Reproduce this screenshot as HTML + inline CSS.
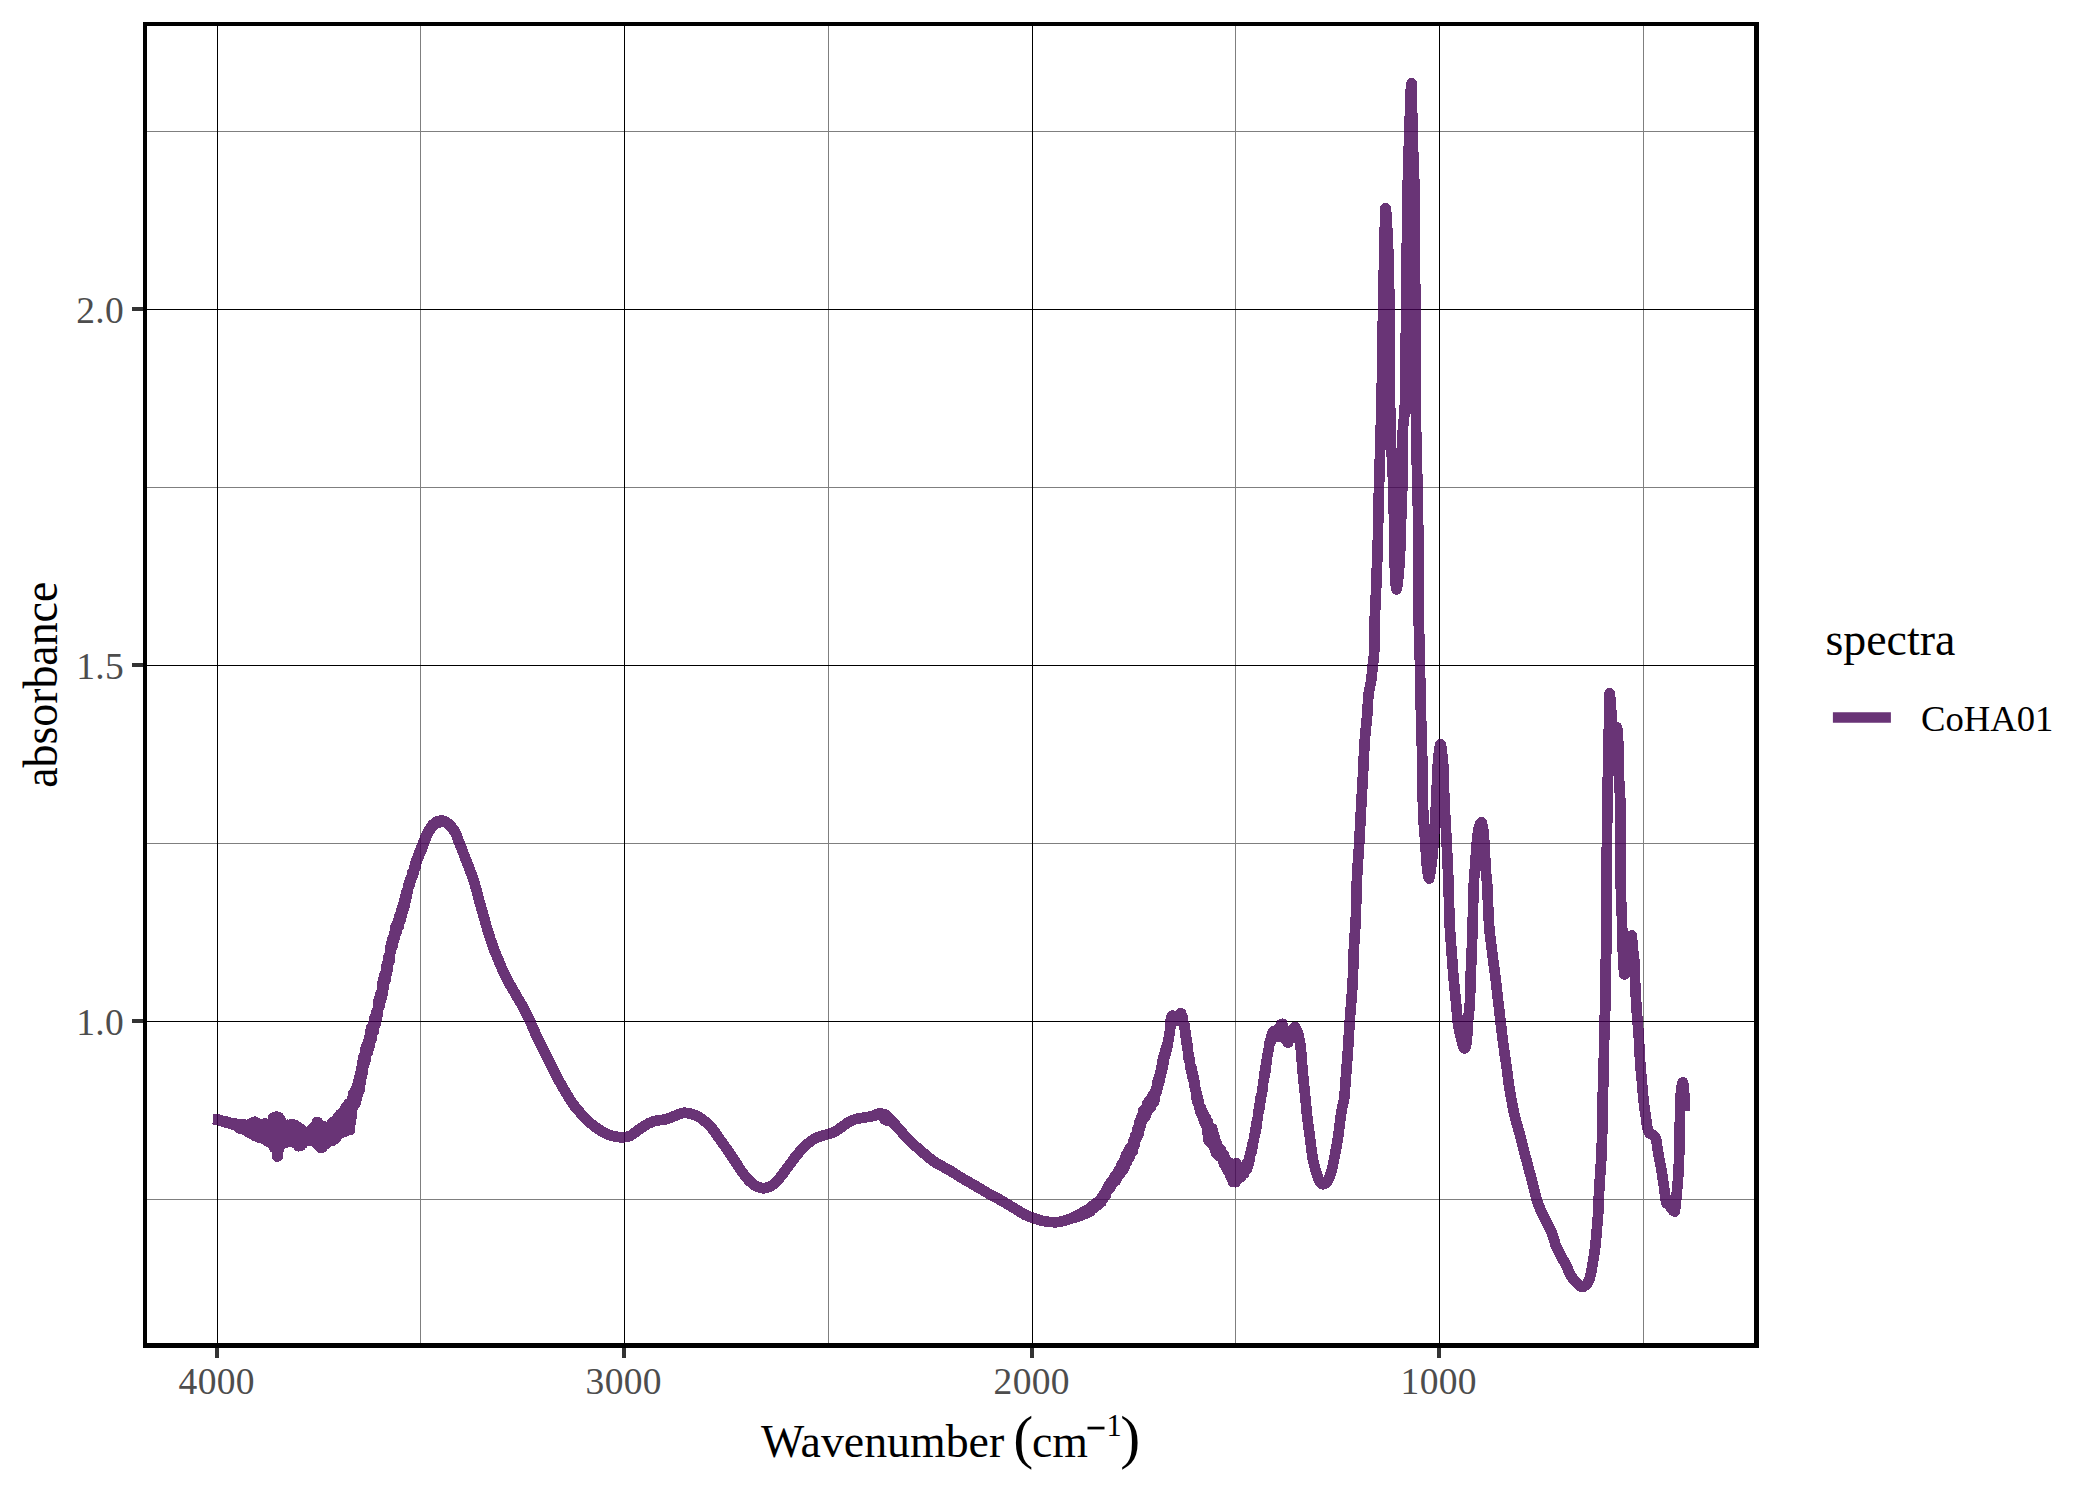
<!DOCTYPE html>
<html><head><meta charset="utf-8"><title>spectra</title>
<style>
html,body{margin:0;padding:0;background:#fff;}
body{width:2100px;height:1500px;overflow:hidden;}
svg{display:block;}
text{font-family:"Liberation Serif",serif;}
.atext{font-size:37.5px;fill:#4D4D4D;letter-spacing:0.3px;}
.ltext{font-size:36.67px;fill:#000;}
.atitle{font-size:45.83px;fill:#000;}
.atitle.paren{font-size:60px;}
.atitle.sup{font-size:30.5px;}
</style></head>
<body>
<svg width="2100" height="1500" viewBox="0 0 2100 1500">
<rect x="0" y="0" width="2100" height="1500" fill="#ffffff"/>
<g shape-rendering="crispEdges">
<rect x="420" y="26" width="1" height="1317" fill="#7F7F7F"/>
<rect x="828" y="26" width="1" height="1317" fill="#7F7F7F"/>
<rect x="1235" y="26" width="1" height="1317" fill="#7F7F7F"/>
<rect x="1643" y="26" width="1" height="1317" fill="#7F7F7F"/>
<rect x="147" y="131" width="1607" height="1" fill="#7F7F7F"/>
<rect x="147" y="487" width="1607" height="1" fill="#7F7F7F"/>
<rect x="147" y="843" width="1607" height="1" fill="#7F7F7F"/>
<rect x="147" y="1199" width="1607" height="1" fill="#7F7F7F"/>
<rect x="217" y="26" width="1" height="1317" fill="#000"/>
<rect x="624" y="26" width="1" height="1317" fill="#000"/>
<rect x="1032" y="26" width="1" height="1317" fill="#000"/>
<rect x="1439" y="26" width="1" height="1317" fill="#000"/>
<rect x="147" y="309" width="1607" height="1" fill="#000"/>
<rect x="147" y="665" width="1607" height="1" fill="#000"/>
<rect x="147" y="1021" width="1607" height="1" fill="#000"/>
</g>
<path d="M213.3,1119.2 214.1,1119.1 214.9,1119.4 215.7,1119.2 216.5,1119.6 217.2,1119.3 218.0,1119.9 218.0,1119.5 218.8,1120.1 219.6,1120.0 220.4,1120.6 221.2,1120.4 222.0,1121.1 222.8,1120.9 223.6,1121.6 224.4,1121.3 225.1,1122.1 225.9,1121.6 226.7,1122.6 227.5,1122.0 228.3,1123.1 229.1,1122.4 229.9,1123.4 230.0,1122.6 230.7,1123.8 231.5,1122.9 232.3,1124.3 233.0,1123.3 233.8,1124.7 234.6,1123.6 235.4,1125.3 236.2,1123.7 237.0,1126.4 237.8,1123.9 238.6,1127.5 239.4,1124.1 240.0,1128.8 240.2,1124.2 240.9,1128.9 241.7,1124.0 242.5,1129.2 243.3,1124.4 244.1,1129.4 244.9,1124.8 245.7,1130.0 246.5,1124.9 247.3,1131.1 248.1,1125.5 248.8,1132.7 249.6,1124.4 250.0,1132.1 250.4,1124.3 251.2,1132.4 252.0,1123.0 252.8,1134.6 253.6,1122.3 254.4,1135.8 255.0,1121.7 255.2,1134.6 256.0,1122.5 256.7,1135.1 257.5,1123.3 258.3,1137.3 259.1,1124.0 259.9,1137.8 260.7,1125.2 261.5,1138.1 262.3,1125.7 263.1,1138.5 263.9,1125.8 264.6,1138.8 265.0,1123.2 265.4,1139.2 266.2,1123.7 267.0,1141.1 267.8,1125.3 268.6,1142.2 269.4,1126.0 270.0,1139.4 270.2,1126.1 271.0,1139.5 271.8,1123.2 272.5,1141.5 273.3,1117.8 274.1,1147.8 274.9,1116.8 275.7,1148.9 276.5,1116.6 277.0,1156.5 277.3,1123.6 278.1,1155.8 278.9,1117.4 279.7,1146.9 280.4,1119.6 281.2,1143.4 282.0,1125.4 282.8,1141.3 283.0,1128.9 283.6,1140.5 284.4,1127.5 285.2,1142.7 286.0,1126.1 286.8,1142.4 287.6,1124.8 288.3,1140.1 289.0,1124.9 289.1,1140.7 289.9,1125.0 290.7,1140.6 291.5,1124.1 292.3,1141.4 293.1,1125.2 293.9,1142.6 294.7,1124.8 295.5,1142.9 296.2,1126.7 297.0,1142.9 297.8,1126.9 298.6,1146.3 299.4,1128.0 300.0,1146.1 300.2,1128.4 301.0,1145.3 301.8,1130.0 302.6,1143.8 303.4,1131.7 304.1,1142.2 304.9,1132.0 305.7,1141.1 306.0,1132.1 306.5,1141.1 307.3,1132.5 308.1,1140.7 308.9,1132.3 309.7,1140.3 310.5,1132.1 311.3,1139.0 312.0,1129.0 312.8,1139.1 313.6,1127.1 314.4,1141.6 315.2,1126.4 316.0,1143.4 316.8,1122.1 317.0,1144.1 317.6,1121.9 318.4,1144.9 319.2,1128.1 319.9,1147.3 320.7,1129.3 321.0,1147.9 321.5,1128.7 322.3,1147.4 323.1,1126.3 323.9,1145.2 324.7,1126.7 325.5,1144.4 326.3,1129.8 327.1,1143.2 327.8,1130.0 328.0,1142.4 328.6,1127.5 329.4,1140.5 330.2,1125.5 331.0,1139.2 331.8,1122.8 332.6,1140.7 333.4,1121.8 334.0,1139.6 334.2,1122.6 335.0,1139.3 335.7,1120.5 336.5,1137.8 337.3,1117.9 338.1,1134.5 338.9,1115.9 339.7,1132.0 340.0,1114.5 340.5,1133.5 341.3,1115.6 342.1,1130.0 342.9,1114.3 343.6,1128.6 344.4,1110.1 345.0,1131.7 345.2,1108.1 346.0,1131.4 346.8,1105.7 347.6,1127.6 348.4,1103.8 349.2,1126.6 350.0,1103.0 350.0,1129.9 350.8,1102.4 351.5,1117.8 352.3,1098.7 353.0,1107.2 353.1,1093.5 353.9,1105.4 354.7,1090.8 355.5,1103.1 356.0,1088.5 356.3,1100.2 357.1,1086.1 357.9,1093.9 358.7,1079.5 359.4,1090.7 359.5,1077.3 360.2,1084.6 361.0,1068.6 361.8,1076.7 362.0,1063.2 362.6,1072.1 363.4,1056.7 364.2,1065.0 365.0,1050.1 365.8,1058.9 366.6,1045.3 367.3,1052.9 368.0,1041.6 368.1,1052.2 368.9,1038.1 369.7,1045.8 370.5,1031.0 371.2,1040.4 371.3,1027.5 372.1,1035.9 372.9,1023.9 373.7,1031.0 374.5,1017.5 375.0,1024.8 375.2,1016.2 376.0,1023.4 376.8,1010.9 377.6,1014.5 378.4,1001.6 378.7,1007.6 379.2,998.3 380.0,1005.0 380.8,993.0 381.6,998.0 382.4,983.5 383.1,992.4 383.5,978.5 383.9,986.6 384.7,973.8 385.5,980.3 386.3,966.6 387.1,972.4 387.5,962.4 387.9,969.5 388.7,955.7 389.5,961.5 390.3,947.5 391.0,951.3 391.8,941.2 392.5,946.3 392.6,938.2 393.4,941.5 394.2,933.4 395.0,936.7 395.8,925.6 396.6,932.1 397.4,922.7 398.2,926.9 398.9,917.8 399.0,926.1 399.7,915.3 400.5,920.5 401.3,910.2 402.1,914.5 402.9,905.0 403.7,908.4 404.2,900.4 404.5,906.0 405.3,896.8 406.1,899.7 406.8,890.9 407.6,892.8 408.4,885.2 409.2,886.0 409.8,880.2 410.0,884.1 410.8,877.8 411.6,878.2 412.4,872.3 413.2,874.7 414.0,868.0 414.7,868.8 415.5,862.7 416.0,865.8 416.3,860.9 417.1,861.4 417.9,855.7 418.7,856.7 419.5,851.8 420.3,852.6 421.1,847.8 421.9,849.1 422.4,844.5 422.6,847.3 423.4,841.7 424.2,842.6 425.0,837.7 425.8,838.2 426.6,834.3 426.6,836.3 427.4,832.9 428.2,833.2 429.0,829.7 429.8,830.5 430.5,827.5 431.3,827.9 431.6,826.0 432.1,827.3 432.9,824.4 433.7,825.3 434.5,823.3 435.3,824.0 436.1,822.2 436.3,823.6 436.9,821.5 437.7,823.1 438.4,821.4 439.2,822.3 440.0,820.8 440.8,821.6 441.6,820.5 441.6,821.6 442.4,820.6 443.2,821.7 444.0,820.9 444.8,822.2 445.6,821.7 446.3,823.0 447.1,822.6 447.9,823.9 448.0,823.2 448.7,824.6 449.5,824.5 450.3,826.1 451.1,826.1 451.9,827.9 452.7,828.4 453.5,830.1 454.2,830.6 454.4,831.5 455.0,832.0 455.8,834.1 456.6,835.6 457.4,837.9 458.2,839.7 459.0,842.2 459.8,843.7 459.8,844.1 460.6,845.8 461.4,848.0 462.1,849.8 462.9,852.1 463.7,853.9 464.5,856.1 465.3,858.0 466.1,860.3 466.4,860.9 466.9,862.3 467.7,864.3 468.5,866.3 469.3,868.3 470.0,870.3 470.8,872.4 471.6,874.6 472.4,876.8 473.2,879.1 473.6,880.3 474.0,881.6 474.8,884.2 475.6,887.1 476.4,890.0 477.2,893.0 477.9,896.0 478.7,898.9 478.9,899.5 479.5,901.8 480.3,904.6 481.1,907.4 481.9,910.3 482.7,913.1 483.5,915.9 484.3,918.6 484.3,918.7 485.1,921.3 485.8,924.1 486.6,926.8 487.4,929.5 488.2,932.2 489.0,934.8 489.8,937.3 490.6,939.7 490.7,940.0 491.4,942.0 492.2,944.2 493.0,946.4 493.7,948.5 494.5,950.6 495.3,952.6 496.1,954.6 496.9,956.5 497.1,957.0 497.7,958.5 498.5,960.4 499.3,962.3 500.1,964.2 500.9,966.0 501.6,967.8 502.4,969.6 503.2,971.3 504.0,973.0 504.8,974.7 505.6,976.3 505.6,976.3 506.4,977.9 507.2,979.4 508.0,980.9 508.8,982.3 509.5,983.8 510.3,985.2 511.1,986.5 511.9,987.9 512.7,989.3 513.5,990.6 514.3,992.0 515.1,993.4 515.9,994.7 516.3,995.5 516.7,996.1 517.4,997.5 518.2,998.9 519.0,1000.2 519.8,1001.6 520.6,1002.9 521.4,1004.2 522.2,1005.6 523.0,1007.0 523.8,1008.5 524.6,1009.9 524.8,1010.4 525.3,1011.5 526.1,1013.1 526.9,1014.7 527.7,1016.4 528.5,1018.1 529.3,1019.8 530.1,1021.5 530.1,1021.5 530.9,1023.2 531.7,1024.9 532.5,1026.7 533.2,1028.5 534.0,1030.2 534.8,1032.0 535.6,1033.8 536.4,1035.5 537.2,1037.2 537.6,1038.1 538.0,1038.9 538.8,1040.6 539.6,1042.2 540.4,1043.9 541.1,1045.5 541.9,1047.1 542.7,1048.7 543.5,1050.3 544.3,1051.9 545.1,1053.5 545.9,1055.1 546.7,1056.7 547.0,1057.3 547.5,1058.2 548.3,1059.8 549.0,1061.4 549.8,1063.0 550.6,1064.6 551.4,1066.2 552.2,1067.8 553.0,1069.3 553.8,1070.9 554.6,1072.4 555.4,1074.0 556.2,1075.5 556.9,1077.0 557.5,1078.0 557.7,1078.4 558.5,1079.9 559.3,1081.3 560.1,1082.7 560.9,1084.1 561.7,1085.5 562.5,1086.9 563.3,1088.2 564.1,1089.6 564.8,1090.9 565.2,1091.5 565.6,1092.2 566.4,1093.6 567.2,1094.9 568.0,1096.2 568.8,1097.5 569.6,1098.8 570.4,1100.1 571.2,1101.3 572.0,1102.4 572.7,1103.5 572.7,1103.6 573.5,1104.6 574.3,1105.7 575.1,1106.7 575.9,1107.7 576.7,1108.6 577.5,1109.6 578.3,1110.5 579.1,1111.4 579.9,1112.3 580.0,1112.5 580.6,1113.2 581.4,1114.1 582.2,1115.0 583.0,1115.9 583.8,1116.8 584.6,1117.6 585.4,1118.4 586.2,1119.2 587.0,1120.0 587.0,1120.0 587.8,1120.7 588.5,1121.4 589.3,1122.2 590.1,1122.8 590.9,1123.5 591.7,1124.2 592.5,1124.8 593.3,1125.5 594.0,1126.0 594.1,1126.1 594.9,1126.7 595.7,1127.2 596.4,1127.8 597.2,1128.4 598.0,1128.9 598.8,1129.4 599.6,1129.9 600.4,1130.4 601.0,1130.8 601.2,1130.9 602.0,1131.4 602.8,1131.9 603.6,1132.3 604.3,1132.8 605.1,1133.2 605.9,1133.6 606.7,1134.0 607.5,1134.3 607.5,1134.3 608.3,1134.6 609.1,1134.9 609.9,1135.2 610.7,1135.4 611.5,1135.7 612.2,1135.9 613.0,1136.1 613.8,1136.3 614.6,1136.4 615.0,1136.5 615.4,1136.6 616.2,1136.7 617.0,1136.8 617.8,1136.9 618.6,1137.0 619.4,1137.1 620.1,1137.2 620.9,1137.3 621.7,1137.3 622.5,1137.3 622.5,1137.3 623.3,1137.3 624.1,1137.2 624.9,1137.1 625.7,1137.0 626.5,1136.9 627.3,1136.8 628.0,1136.6 628.5,1136.5 628.8,1136.4 629.6,1136.1 630.4,1135.7 631.2,1135.2 632.0,1134.6 632.8,1134.0 633.6,1133.4 634.4,1132.9 634.5,1132.8 635.2,1132.4 635.9,1131.8 636.7,1131.2 637.5,1130.7 638.3,1130.1 639.1,1129.5 639.9,1128.9 640.7,1128.4 641.5,1127.8 642.0,1127.5 642.3,1127.3 643.1,1126.8 643.8,1126.3 644.6,1125.8 645.4,1125.2 646.2,1124.8 647.0,1124.3 647.8,1123.8 648.6,1123.4 649.4,1123.1 649.5,1123.0 650.2,1122.7 651.0,1122.4 651.7,1122.1 652.5,1121.8 653.3,1121.5 654.1,1121.2 654.9,1121.0 655.7,1120.8 656.5,1120.6 657.0,1120.5 657.3,1120.5 658.1,1120.3 658.9,1120.2 659.6,1120.2 660.4,1120.1 661.2,1120.0 662.0,1119.9 662.8,1119.8 663.6,1119.7 664.4,1119.6 664.5,1119.6 665.2,1119.5 666.0,1119.3 666.8,1119.0 667.5,1118.7 668.3,1118.4 669.1,1118.1 669.9,1117.8 670.7,1117.5 671.5,1117.2 672.0,1117.0 672.3,1116.9 673.1,1116.6 673.9,1116.2 674.7,1115.9 675.4,1115.6 676.2,1115.2 677.0,1114.9 677.8,1114.6 678.6,1114.3 679.4,1114.0 679.5,1114.0 680.2,1113.8 681.0,1113.5 681.8,1113.3 682.6,1113.1 683.3,1112.9 684.1,1112.8 684.8,1112.8 684.9,1112.8 685.7,1112.8 686.5,1112.9 687.3,1113.0 688.1,1113.2 688.9,1113.4 689.7,1113.5 690.5,1113.7 691.2,1113.9 691.5,1114.0 692.0,1114.1 692.8,1114.4 693.6,1114.6 694.4,1114.9 695.2,1115.2 696.0,1115.5 696.8,1115.9 697.6,1116.3 698.4,1116.7 699.0,1117.0 699.1,1117.1 699.9,1117.5 700.7,1118.1 701.5,1118.6 702.3,1119.3 703.1,1119.9 703.9,1120.6 704.7,1121.2 705.0,1121.5 705.5,1121.9 706.3,1122.6 707.0,1123.3 707.8,1124.1 708.6,1124.8 709.4,1125.6 710.2,1126.5 711.0,1127.3 711.8,1128.2 712.5,1129.0 712.6,1129.1 713.4,1130.1 714.2,1131.1 714.9,1132.2 715.7,1133.3 716.5,1134.4 717.3,1135.6 718.1,1136.8 718.9,1137.9 719.7,1139.1 720.0,1139.5 720.5,1140.2 721.3,1141.3 722.1,1142.4 722.8,1143.5 723.6,1144.5 724.4,1145.6 725.2,1146.8 726.0,1147.9 726.8,1149.0 727.5,1150.0 727.6,1150.1 728.4,1151.3 729.2,1152.5 730.0,1153.6 730.7,1154.8 731.5,1156.0 732.3,1157.3 733.1,1158.5 733.9,1159.7 734.7,1160.8 735.0,1161.3 735.5,1162.0 736.3,1163.2 737.1,1164.5 737.9,1165.7 738.6,1166.9 739.4,1168.1 740.2,1169.3 741.0,1170.4 741.8,1171.6 742.5,1172.5 742.6,1172.6 743.4,1173.7 744.2,1174.7 745.0,1175.8 745.8,1176.8 746.5,1177.8 747.3,1178.7 748.1,1179.6 748.9,1180.4 749.7,1181.2 750.0,1181.5 750.5,1182.0 751.3,1182.7 752.1,1183.4 752.9,1184.0 753.7,1184.6 754.4,1185.1 755.2,1185.6 756.0,1186.0 756.0,1186.0 756.8,1186.4 757.6,1186.7 758.4,1187.0 759.2,1187.4 760.0,1187.6 760.8,1187.9 761.6,1188.1 762.3,1188.2 763.1,1188.3 763.5,1188.3 763.9,1188.3 764.7,1188.2 765.5,1188.1 766.3,1187.9 767.1,1187.6 767.9,1187.3 768.7,1187.0 769.5,1186.7 770.2,1186.3 771.0,1186.0 771.0,1186.0 771.8,1185.6 772.6,1185.0 773.4,1184.4 774.2,1183.7 775.0,1183.0 775.8,1182.2 776.6,1181.4 777.4,1180.5 778.1,1179.7 778.5,1179.3 778.9,1178.8 779.7,1177.9 780.5,1176.9 781.3,1175.9 782.1,1174.8 782.9,1173.8 783.7,1172.7 784.5,1171.6 785.3,1170.5 786.0,1169.5 786.0,1169.4 786.8,1168.4 787.6,1167.3 788.4,1166.3 789.2,1165.2 790.0,1164.1 790.8,1163.0 791.6,1162.0 792.4,1160.9 793.2,1159.9 793.9,1158.8 794.7,1157.8 795.0,1157.5 795.5,1156.8 796.3,1155.8 797.1,1154.8 797.9,1153.8 798.7,1152.9 799.5,1151.9 800.3,1151.0 801.1,1150.0 801.8,1149.2 802.5,1148.5 802.6,1148.4 803.4,1147.6 804.2,1146.8 805.0,1146.0 805.8,1145.3 806.6,1144.6 807.4,1143.9 808.2,1143.2 809.0,1142.6 809.7,1142.0 810.0,1141.8 810.5,1141.4 811.3,1140.9 812.1,1140.3 812.9,1139.8 813.7,1139.3 814.5,1138.8 815.3,1138.4 816.1,1138.0 816.9,1137.6 817.5,1137.3 817.6,1137.2 818.4,1136.9 819.2,1136.7 820.0,1136.4 820.8,1136.2 821.6,1136.0 822.4,1135.8 823.2,1135.5 824.0,1135.3 824.8,1135.1 825.0,1135.0 825.5,1134.8 826.3,1134.6 827.1,1134.3 827.9,1134.1 828.7,1133.8 829.5,1133.6 830.3,1133.3 831.1,1133.1 831.9,1132.8 832.7,1132.5 833.4,1132.2 834.2,1131.8 835.0,1131.5 835.0,1131.5 835.8,1131.1 836.6,1130.6 837.4,1130.1 838.2,1129.6 839.0,1129.0 839.8,1128.5 840.6,1127.9 841.3,1127.3 842.1,1126.7 842.5,1126.5 842.9,1126.2 843.7,1125.6 844.5,1125.0 845.3,1124.4 846.1,1123.8 846.9,1123.2 847.7,1122.7 848.5,1122.1 849.2,1121.7 850.0,1121.3 850.0,1121.3 850.8,1120.9 851.6,1120.6 852.4,1120.3 853.2,1120.0 854.0,1119.7 854.8,1119.4 855.6,1119.2 856.4,1119.0 857.1,1118.8 857.5,1118.7 857.9,1118.6 858.7,1118.5 859.5,1118.3 860.3,1118.2 861.1,1118.1 861.9,1118.0 862.7,1117.9 863.5,1117.7 864.3,1117.6 865.0,1117.5 865.0,1117.5 865.8,1117.3 866.6,1117.2 867.4,1117.1 868.2,1116.9 869.0,1116.8 869.8,1116.6 870.6,1116.4 871.4,1116.3 872.2,1115.9 872.5,1116.1 872.9,1115.7 873.7,1115.9 874.5,1115.2 875.3,1115.4 876.1,1114.5 876.9,1115.0 877.7,1113.9 878.5,1114.5 879.3,1113.2 880.0,1114.4 880.1,1113.1 880.8,1114.8 881.6,1113.8 882.4,1116.4 883.2,1115.3 884.0,1118.3 884.5,1115.0 884.8,1119.6 885.6,1114.5 886.4,1120.4 887.2,1116.2 888.0,1120.7 888.7,1117.4 889.5,1120.7 890.3,1119.0 890.5,1121.2 891.1,1119.9 891.9,1121.9 892.7,1121.4 893.5,1123.7 894.3,1123.3 895.1,1125.1 895.9,1125.4 896.6,1126.8 897.4,1127.0 898.0,1128.3 898.2,1127.9 899.0,1129.3 899.8,1129.8 900.6,1131.1 901.4,1131.6 902.2,1132.9 903.0,1133.4 903.8,1134.5 904.5,1135.1 905.3,1136.3 905.5,1136.2 906.1,1137.1 906.9,1137.7 907.7,1138.6 908.5,1139.4 909.3,1140.2 910.1,1141.0 910.9,1141.8 911.7,1142.5 912.4,1143.3 913.0,1143.8 913.2,1144.0 914.0,1144.8 914.8,1145.5 915.6,1146.2 916.4,1146.9 917.2,1147.6 918.0,1148.3 918.8,1149.0 919.6,1149.7 920.3,1150.4 920.5,1150.5 921.1,1151.1 921.9,1151.7 922.7,1152.4 923.5,1153.1 924.3,1153.8 925.1,1154.4 925.9,1155.1 926.7,1155.7 927.5,1156.4 928.0,1156.8 928.2,1157.0 929.0,1157.6 929.8,1158.3 930.6,1158.9 931.4,1159.5 932.2,1160.1 933.0,1160.7 933.8,1161.3 934.6,1161.9 935.4,1162.4 935.5,1162.5 936.1,1162.9 936.9,1163.4 937.7,1163.8 938.5,1164.3 939.3,1164.7 940.1,1165.1 940.9,1165.6 941.7,1166.0 942.5,1166.4 943.0,1166.7 943.3,1166.8 944.0,1167.3 944.8,1167.7 945.6,1168.1 946.4,1168.5 947.2,1169.0 948.0,1169.4 948.8,1169.8 949.6,1170.3 950.4,1170.7 950.5,1170.8 951.2,1171.2 951.9,1171.7 952.7,1172.2 953.5,1172.7 954.3,1173.3 955.1,1173.8 955.9,1174.3 956.7,1174.9 957.5,1175.4 958.0,1175.7 958.3,1175.9 959.1,1176.4 959.8,1176.8 960.6,1177.3 961.4,1177.8 962.2,1178.3 963.0,1178.7 963.8,1179.2 964.6,1179.7 965.4,1180.1 965.5,1180.2 966.2,1180.6 967.0,1181.0 967.7,1181.5 968.5,1181.9 969.3,1182.4 970.1,1182.8 970.9,1183.2 971.7,1183.7 972.5,1184.1 973.0,1184.4 973.3,1184.6 974.1,1185.0 974.9,1185.5 975.6,1185.9 976.4,1186.4 977.2,1186.9 978.0,1187.3 978.8,1187.8 979.6,1188.3 980.4,1188.7 980.5,1188.8 981.2,1189.2 982.0,1189.7 982.8,1190.2 983.5,1190.6 984.3,1191.1 985.1,1191.6 985.9,1192.1 986.7,1192.6 987.5,1193.0 988.0,1193.3 988.3,1193.5 989.1,1193.9 989.9,1194.3 990.7,1194.7 991.4,1195.2 992.2,1195.6 993.0,1196.0 993.8,1196.4 994.6,1196.8 995.4,1197.2 995.5,1197.3 996.2,1197.7 997.0,1198.1 997.8,1198.5 998.6,1199.0 999.3,1199.4 1000.1,1199.9 1000.9,1200.3 1001.7,1200.8 1002.5,1201.2 1003.0,1201.5 1003.3,1201.7 1004.1,1202.1 1004.9,1202.6 1005.7,1203.1 1006.5,1203.6 1007.2,1204.0 1008.0,1204.5 1008.8,1205.0 1009.6,1205.5 1010.4,1205.9 1010.5,1206.0 1011.2,1206.4 1012.0,1206.9 1012.8,1207.4 1013.6,1207.8 1014.4,1208.3 1015.1,1208.8 1015.9,1209.3 1016.7,1209.7 1017.5,1210.2 1018.0,1210.5 1018.3,1210.7 1019.1,1211.2 1019.9,1211.7 1020.7,1212.2 1021.5,1212.7 1022.3,1213.2 1023.0,1213.7 1023.8,1214.1 1024.6,1214.6 1025.4,1215.0 1025.5,1215.0 1026.2,1215.3 1027.0,1215.7 1027.8,1216.0 1028.6,1216.3 1029.4,1216.6 1030.2,1216.9 1030.9,1217.2 1031.7,1217.4 1032.5,1217.7 1032.5,1217.7 1033.3,1218.0 1034.1,1218.3 1034.9,1218.6 1035.7,1218.8 1036.5,1219.1 1037.3,1219.4 1038.1,1219.6 1038.8,1219.9 1039.6,1220.1 1040.4,1220.3 1040.5,1220.3 1041.2,1220.5 1042.0,1220.7 1042.8,1220.9 1043.6,1221.1 1044.4,1221.2 1045.2,1221.4 1046.0,1221.5 1046.7,1221.7 1047.5,1221.8 1048.0,1221.8 1048.3,1221.8 1049.1,1221.9 1049.9,1222.0 1050.7,1222.0 1051.5,1222.1 1052.3,1222.1 1053.1,1222.1 1053.9,1222.2 1054.6,1222.2 1055.4,1222.2 1055.5,1222.2 1056.2,1222.2 1057.0,1222.1 1057.8,1222.0 1058.6,1221.9 1059.4,1221.8 1060.2,1221.6 1061.0,1221.4 1061.8,1221.3 1062.5,1221.1 1063.0,1221.0 1063.3,1220.9 1064.1,1220.7 1064.9,1220.5 1065.7,1220.3 1066.5,1220.1 1067.3,1219.9 1068.1,1219.6 1068.9,1219.3 1069.7,1219.1 1070.4,1218.9 1070.5,1218.8 1071.2,1218.7 1072.0,1218.1 1072.8,1218.2 1073.6,1217.4 1074.4,1217.9 1075.2,1216.5 1076.0,1217.2 1076.8,1215.7 1077.6,1216.6 1078.0,1215.1 1078.3,1216.3 1079.1,1214.3 1079.9,1216.0 1080.7,1213.5 1081.5,1215.4 1082.3,1212.4 1083.1,1214.6 1083.9,1211.5 1084.7,1213.9 1085.5,1210.9 1085.5,1213.7 1086.2,1210.4 1087.0,1213.0 1087.8,1209.7 1088.6,1211.4 1089.4,1208.2 1090.2,1211.4 1091.0,1207.1 1091.8,1209.6 1092.6,1205.7 1093.0,1208.7 1093.4,1205.2 1094.1,1207.1 1094.9,1203.8 1095.7,1206.5 1096.5,1202.8 1097.3,1205.4 1098.1,1201.6 1098.9,1203.4 1099.7,1200.2 1100.5,1202.8 1100.5,1199.3 1101.3,1202.2 1102.0,1197.4 1102.8,1199.7 1103.6,1194.2 1104.4,1196.3 1105.2,1192.1 1106.0,1194.8 1106.8,1189.2 1107.3,1191.0 1107.6,1187.0 1108.4,1189.3 1109.2,1184.5 1109.9,1188.1 1110.7,1182.6 1111.5,1185.7 1112.3,1180.2 1113.1,1183.0 1113.9,1178.3 1114.7,1181.4 1114.7,1176.3 1115.5,1180.9 1116.3,1174.4 1117.1,1177.6 1117.8,1172.1 1118.6,1175.5 1119.4,1169.2 1120.2,1173.6 1121.0,1165.4 1121.8,1171.2 1122.0,1165.2 1122.6,1170.4 1123.4,1161.6 1124.2,1168.1 1125.0,1157.8 1125.7,1162.9 1126.5,1154.0 1127.3,1161.3 1128.1,1151.8 1128.9,1157.9 1129.3,1149.0 1129.7,1156.2 1130.5,1147.4 1131.3,1152.8 1132.1,1145.4 1132.9,1150.9 1133.6,1140.0 1134.4,1145.8 1135.2,1135.8 1135.2,1141.8 1136.0,1134.8 1136.8,1137.7 1137.6,1128.6 1138.4,1134.4 1139.2,1122.9 1140.0,1128.3 1140.8,1118.9 1141.0,1124.9 1141.5,1116.6 1142.3,1121.0 1143.1,1111.2 1143.9,1118.2 1144.7,1109.4 1145.5,1116.4 1146.3,1107.2 1146.9,1112.2 1147.1,1103.9 1147.9,1110.0 1148.7,1101.1 1149.4,1108.4 1150.2,1100.3 1151.0,1106.9 1151.8,1097.2 1152.6,1103.3 1153.4,1094.1 1154.2,1102.0 1154.3,1093.3 1155.0,1097.3 1155.8,1089.3 1156.6,1092.2 1157.3,1082.7 1158.1,1087.0 1158.9,1076.5 1159.7,1080.6 1160.1,1072.4 1160.5,1076.4 1161.3,1067.7 1162.1,1070.5 1162.9,1058.3 1163.7,1062.4 1164.5,1053.6 1164.5,1057.5 1165.2,1050.2 1166.0,1052.8 1166.8,1045.4 1167.6,1046.5 1168.4,1038.6 1168.9,1039.7 1169.2,1034.8 1170.0,1030.9 1170.8,1020.2 1171.6,1018.3 1171.8,1015.7 1172.4,1018.7 1173.1,1015.7 1173.9,1019.8 1174.7,1016.3 1175.5,1021.1 1176.0,1017.9 1176.3,1021.0 1177.1,1017.5 1177.9,1019.1 1178.7,1014.9 1179.5,1016.7 1180.3,1013.2 1180.6,1016.2 1181.0,1013.4 1181.8,1018.5 1182.6,1017.0 1183.4,1024.2 1184.2,1024.0 1184.3,1028.1 1185.0,1028.1 1185.8,1037.2 1186.5,1038.7 1186.6,1043.3 1187.4,1044.7 1188.2,1054.7 1188.7,1054.0 1188.9,1060.6 1189.7,1059.8 1190.5,1067.9 1191.3,1066.8 1191.6,1072.2 1192.1,1070.9 1192.9,1079.2 1193.7,1077.2 1194.5,1086.8 1194.6,1082.5 1195.3,1090.0 1196.1,1089.9 1196.8,1099.1 1197.5,1096.8 1197.6,1103.1 1198.4,1100.6 1199.2,1107.3 1200.0,1106.5 1200.8,1112.9 1201.2,1108.2 1201.6,1114.8 1202.4,1111.7 1203.2,1118.9 1204.0,1114.6 1204.7,1123.0 1205.5,1117.5 1205.6,1125.0 1206.3,1119.0 1207.1,1131.9 1207.9,1121.8 1208.5,1140.6 1208.7,1127.8 1209.5,1142.0 1210.3,1127.2 1211.1,1140.4 1211.9,1128.4 1212.6,1144.3 1212.9,1130.4 1213.4,1146.0 1214.2,1135.0 1215.0,1150.4 1215.8,1141.6 1215.8,1153.1 1216.6,1143.3 1217.4,1153.6 1218.2,1147.3 1219.0,1156.0 1219.8,1148.8 1220.5,1156.1 1221.3,1150.7 1221.7,1158.0 1222.1,1153.0 1222.9,1161.3 1223.7,1154.7 1224.5,1164.8 1225.3,1158.1 1226.1,1167.3 1226.9,1161.0 1227.6,1170.9 1227.7,1163.3 1228.4,1171.8 1229.2,1163.1 1230.0,1174.9 1230.8,1163.4 1231.6,1179.1 1232.4,1165.7 1233.2,1182.0 1233.4,1167.8 1234.0,1178.6 1234.8,1166.5 1235.6,1182.3 1236.3,1163.5 1237.1,1177.3 1237.9,1170.4 1238.7,1176.1 1239.5,1172.4 1240.3,1177.5 1240.3,1170.6 1241.1,1176.8 1241.9,1170.0 1242.7,1174.4 1243.5,1170.5 1244.2,1173.3 1245.0,1167.7 1245.8,1169.6 1246.6,1163.8 1246.9,1168.8 1247.4,1163.0 1248.2,1165.4 1249.0,1158.3 1249.8,1159.4 1250.6,1152.1 1251.4,1152.6 1252.0,1146.3 1252.1,1149.3 1252.9,1141.9 1253.7,1141.3 1254.5,1134.5 1255.3,1133.1 1255.7,1128.0 1256.1,1129.1 1256.9,1121.1 1257.7,1118.7 1258.5,1110.6 1259.3,1108.5 1259.3,1105.7 1260.0,1104.6 1260.8,1097.0 1261.6,1095.4 1262.3,1088.7 1262.4,1090.3 1263.2,1082.6 1264.0,1079.8 1264.8,1071.9 1265.2,1072.3 1265.6,1066.5 1266.4,1063.5 1267.2,1056.1 1267.9,1053.5 1268.1,1050.6 1268.7,1049.4 1269.5,1042.9 1270.3,1042.5 1271.1,1037.0 1271.1,1039.8 1271.9,1034.3 1272.7,1035.3 1273.5,1031.0 1274.0,1035.1 1274.3,1030.9 1275.1,1035.3 1275.8,1030.6 1276.6,1036.3 1277.4,1032.1 1278.0,1036.9 1278.2,1031.4 1279.0,1034.0 1279.8,1027.1 1280.6,1030.3 1281.4,1024.0 1282.0,1028.4 1282.2,1023.8 1283.0,1030.1 1283.7,1029.2 1284.5,1036.1 1285.0,1033.6 1285.3,1039.3 1286.1,1035.8 1286.9,1041.4 1287.7,1038.1 1287.9,1042.7 1288.5,1037.4 1289.3,1039.8 1290.1,1033.8 1290.9,1037.4 1291.0,1032.3 1291.6,1036.0 1292.4,1029.5 1293.2,1032.5 1294.0,1028.3 1294.5,1031.7 1294.8,1027.1 1295.6,1032.3 1296.4,1029.2 1297.2,1034.5 1298.0,1033.0 1298.8,1037.4 1298.9,1035.9 1299.5,1040.5 1300.3,1044.3 1301.1,1052.7 1301.1,1051.3 1301.9,1062.6 1302.6,1070.3 1302.7,1072.7 1303.5,1079.7 1304.3,1088.2 1304.8,1092.4 1305.1,1095.9 1305.9,1103.4 1306.7,1111.9 1307.0,1114.5 1307.4,1118.7 1308.2,1124.4 1309.0,1130.5 1309.8,1135.8 1309.9,1136.9 1310.6,1142.1 1311.4,1149.0 1312.2,1154.8 1312.8,1158.7 1313.0,1159.5 1313.8,1163.4 1314.6,1166.7 1315.3,1169.6 1316.1,1172.2 1316.5,1173.3 1316.9,1174.6 1317.7,1176.9 1318.5,1179.0 1319.3,1180.7 1320.1,1182.0 1320.2,1182.1 1320.9,1182.9 1321.7,1183.6 1322.5,1184.1 1323.1,1184.3 1323.2,1184.3 1324.0,1184.1 1324.8,1183.7 1325.6,1183.1 1326.4,1182.5 1326.8,1182.1 1327.2,1181.7 1328.0,1180.4 1328.8,1178.7 1329.6,1176.6 1330.4,1174.4 1331.1,1172.0 1331.2,1171.8 1331.9,1169.2 1332.7,1165.9 1333.5,1162.2 1334.3,1158.2 1334.8,1155.7 1335.1,1154.1 1335.9,1149.8 1336.7,1145.2 1337.5,1140.3 1338.3,1135.3 1338.5,1133.7 1339.0,1129.9 1339.8,1123.8 1340.6,1117.6 1341.4,1111.9 1342.2,1107.3 1342.2,1107.3 1343.0,1104.2 1343.8,1101.2 1344.0,1100.0 1344.6,1094.6 1345.4,1083.7 1346.0,1075.0 1346.2,1073.0 1346.9,1063.6 1347.7,1053.6 1348.0,1050.0 1348.5,1041.6 1349.3,1027.9 1349.8,1021.0 1350.1,1015.9 1350.9,1006.4 1351.7,997.0 1352.5,985.1 1352.8,980.0 1353.3,964.4 1353.8,950.0 1354.1,944.4 1354.8,934.2 1355.6,922.3 1355.8,920.0 1356.4,894.0 1356.7,885.0 1357.2,874.0 1358.0,861.4 1358.8,850.3 1359.2,843.0 1359.6,836.8 1360.4,821.4 1361.2,806.0 1361.5,800.0 1362.0,792.3 1362.7,779.5 1363.0,775.0 1363.5,763.0 1364.2,750.0 1364.3,747.1 1365.1,736.6 1365.2,735.0 1365.9,727.9 1366.7,720.1 1367.2,715.0 1367.5,710.0 1368.3,697.3 1368.5,695.0 1369.1,691.0 1369.9,687.1 1370.6,683.6 1371.2,680.0 1371.4,678.6 1372.2,671.3 1372.8,665.0 1373.0,663.5 1373.8,657.6 1374.3,650.0 1374.6,622.9 1374.7,620.0 1375.4,604.8 1375.7,600.0 1376.2,586.5 1376.6,575.0 1377.0,565.7 1377.8,544.0 1377.8,543.6 1378.5,504.3 1378.7,500.0 1379.3,476.5 1380.1,452.1 1380.3,446.0 1380.9,423.1 1381.7,391.0 1382.5,350.0 1382.5,350.0 1383.0,310.0 1383.3,294.2 1384.1,260.6 1384.3,250.0 1384.9,225.9 1385.5,208.2 1385.7,208.4 1386.4,215.0 1387.2,228.8 1388.0,247.0 1388.2,250.0 1388.8,267.4 1389.5,310.0 1389.5,350.0 1389.6,358.4 1390.4,428.0 1391.0,446.0 1391.2,448.2 1391.5,451.0 1392.0,458.3 1392.8,475.0 1393.3,490.0 1393.6,496.3 1393.7,500.0 1394.2,544.0 1394.3,552.6 1395.1,573.9 1395.2,575.0 1395.9,586.5 1396.4,589.5 1396.7,589.0 1397.5,584.8 1398.3,577.9 1398.6,575.0 1399.1,569.3 1399.9,556.3 1400.5,544.0 1400.7,537.5 1401.5,505.7 1401.7,500.0 1402.2,490.0 1402.2,451.0 1402.2,448.6 1403.0,426.4 1403.8,420.4 1404.6,411.4 1404.9,404.0 1405.4,366.1 1405.6,350.0 1406.2,310.0 1406.2,306.0 1407.0,230.2 1407.4,200.0 1407.8,182.1 1408.6,153.8 1409.3,131.7 1409.4,131.4 1410.1,108.0 1410.9,88.6 1411.5,83.4 1411.7,88.8 1412.5,131.7 1412.5,134.4 1413.3,155.9 1414.1,176.7 1414.6,200.0 1414.9,234.3 1415.3,310.0 1415.5,350.0 1415.7,401.3 1415.7,404.0 1416.5,452.8 1417.3,478.9 1417.5,490.0 1418.0,512.3 1418.4,544.0 1418.5,600.0 1418.8,624.0 1419.6,646.6 1419.7,650.0 1420.2,680.0 1420.4,692.7 1421.0,715.0 1421.2,722.6 1422.0,750.0 1422.0,750.0 1422.6,775.0 1422.8,799.5 1422.8,800.0 1423.6,821.4 1424.4,832.1 1425.2,840.4 1425.3,843.0 1425.9,852.4 1426.7,863.9 1427.3,870.0 1427.5,871.2 1428.3,876.0 1429.1,878.4 1429.2,878.4 1429.9,876.1 1430.7,870.3 1431.0,868.0 1431.5,864.4 1432.3,857.5 1433.0,850.0 1433.1,849.3 1433.8,839.2 1434.6,827.4 1434.8,825.0 1435.4,815.2 1436.2,801.5 1436.3,800.0 1437.0,782.2 1437.8,765.0 1437.8,765.0 1438.6,755.9 1439.4,748.7 1440.2,744.6 1440.5,744.2 1441.0,745.0 1441.7,749.7 1442.5,757.5 1443.2,765.0 1443.3,768.1 1444.1,791.0 1444.5,800.0 1444.9,809.9 1445.7,824.8 1446.5,839.7 1446.7,843.0 1447.3,856.1 1448.1,873.7 1448.5,885.0 1448.9,897.7 1449.5,920.0 1449.6,923.2 1450.4,936.1 1451.2,946.3 1451.5,950.0 1452.0,957.4 1452.8,968.2 1453.6,978.3 1453.8,980.0 1454.4,986.8 1455.2,994.4 1456.0,1002.0 1456.2,1005.0 1456.8,1011.3 1457.5,1019.0 1457.5,1019.8 1458.3,1025.2 1459.1,1029.5 1459.9,1033.2 1460.3,1035.0 1460.7,1036.5 1461.5,1040.0 1462.3,1043.3 1463.1,1046.1 1463.9,1047.9 1464.5,1048.4 1464.7,1048.4 1465.4,1047.2 1466.2,1045.0 1466.2,1044.6 1467.0,1036.5 1467.2,1035.0 1467.8,1023.9 1468.2,1019.0 1468.6,1014.9 1469.4,1009.2 1469.8,1005.0 1470.2,991.2 1470.5,980.0 1471.0,968.0 1471.8,950.0 1471.8,949.5 1472.6,926.1 1472.8,920.0 1473.3,897.2 1473.8,885.0 1474.1,878.3 1474.9,868.3 1475.0,868.0 1475.7,857.2 1476.5,846.8 1476.8,843.0 1477.3,838.3 1478.1,831.4 1478.3,830.0 1478.9,827.9 1479.7,825.3 1480.5,823.4 1481.2,822.5 1481.5,822.4 1482.0,823.5 1482.8,827.9 1483.2,830.0 1483.6,833.6 1484.4,842.5 1484.5,843.0 1485.2,858.9 1485.7,868.0 1486.0,872.4 1486.8,880.3 1487.2,885.0 1487.6,893.2 1488.4,912.8 1488.8,920.0 1489.1,925.2 1489.9,933.6 1490.7,940.5 1491.5,946.8 1491.9,950.0 1492.3,953.4 1493.1,959.7 1493.9,965.7 1494.7,971.6 1495.5,977.7 1495.8,980.0 1496.3,984.2 1497.0,990.9 1497.8,997.8 1498.6,1004.6 1499.2,1010.0 1499.4,1011.5 1500.2,1018.4 1501.0,1025.4 1501.8,1032.2 1502.6,1038.7 1502.8,1040.0 1503.4,1044.7 1504.2,1050.2 1504.9,1055.6 1505.7,1061.0 1506.5,1066.5 1507.0,1070.0 1507.3,1072.5 1508.1,1079.0 1508.2,1080.0 1508.9,1084.5 1509.7,1089.6 1510.5,1094.3 1511.3,1098.8 1511.5,1100.0 1512.1,1103.0 1512.8,1107.0 1513.6,1110.8 1514.4,1114.4 1515.2,1117.8 1515.8,1120.0 1516.0,1121.0 1516.8,1124.0 1517.6,1126.7 1518.4,1129.3 1519.2,1132.0 1520.0,1134.9 1520.0,1135.0 1520.7,1137.9 1521.5,1141.1 1522.3,1144.3 1523.1,1147.5 1523.8,1150.0 1523.9,1150.6 1524.7,1153.6 1525.5,1156.6 1526.3,1159.5 1527.1,1162.5 1527.8,1165.0 1527.9,1165.4 1528.6,1168.4 1529.4,1171.3 1530.2,1174.2 1531.0,1177.2 1531.8,1180.0 1531.8,1180.2 1532.6,1183.4 1533.0,1185.0 1533.4,1186.6 1534.2,1189.9 1535.0,1193.3 1535.8,1196.4 1536.5,1199.0 1536.5,1199.2 1537.3,1201.5 1538.1,1203.8 1538.9,1205.8 1539.7,1207.7 1540.5,1209.6 1541.3,1211.4 1542.0,1213.0 1542.1,1213.2 1542.9,1214.9 1543.7,1216.5 1544.4,1218.1 1545.2,1219.6 1546.0,1221.1 1546.8,1222.6 1547.6,1224.2 1548.0,1225.0 1548.4,1225.8 1549.2,1227.4 1550.0,1229.0 1550.8,1230.7 1551.6,1232.4 1552.3,1234.3 1553.0,1236.0 1553.1,1236.4 1553.9,1239.0 1554.7,1241.9 1555.5,1244.6 1556.0,1246.0 1556.3,1246.7 1557.1,1248.6 1557.9,1250.2 1558.7,1251.7 1559.5,1253.2 1560.2,1254.6 1561.0,1256.0 1561.0,1256.1 1561.8,1257.5 1562.6,1258.9 1563.4,1260.3 1564.2,1261.7 1565.0,1263.1 1565.8,1264.6 1566.0,1265.0 1566.6,1266.2 1567.4,1268.0 1568.1,1269.9 1568.9,1271.8 1569.7,1273.6 1570.5,1275.0 1570.5,1275.0 1571.3,1276.3 1572.1,1277.4 1572.9,1278.5 1573.7,1279.5 1574.5,1280.4 1575.0,1281.0 1575.3,1281.3 1576.0,1282.2 1576.8,1283.0 1577.6,1283.8 1578.4,1284.5 1579.0,1285.0 1579.2,1285.2 1580.0,1285.9 1580.8,1286.5 1581.6,1286.9 1582.0,1287.0 1582.4,1287.0 1583.2,1286.8 1583.9,1286.4 1584.7,1285.9 1585.5,1285.4 1586.0,1285.0 1586.3,1284.7 1587.1,1283.7 1587.9,1282.3 1588.7,1280.7 1589.0,1280.0 1589.5,1278.7 1590.3,1276.0 1591.0,1273.0 1591.1,1272.7 1591.8,1268.7 1592.5,1265.0 1592.6,1264.2 1593.4,1259.6 1594.0,1256.0 1594.2,1254.5 1595.0,1248.5 1595.3,1246.0 1595.8,1241.3 1596.3,1236.0 1596.6,1232.6 1597.2,1225.0 1597.4,1223.0 1598.2,1213.5 1598.2,1213.0 1598.7,1199.0 1599.0,1193.9 1599.7,1181.6 1599.8,1180.0 1600.5,1169.9 1601.2,1160.0 1601.3,1156.5 1602.0,1140.0 1602.1,1136.7 1602.5,1120.0 1602.6,1100.0 1602.9,1091.4 1603.3,1085.0 1603.7,1066.9 1604.0,1050.0 1604.5,1021.3 1604.5,1021.0 1605.3,1009.4 1605.4,1005.0 1605.5,965.0 1606.1,954.9 1606.5,945.0 1606.6,880.0 1606.9,843.5 1607.2,820.0 1607.6,789.4 1607.9,775.0 1608.4,747.4 1608.6,740.0 1609.2,715.0 1609.2,713.4 1609.6,693.4 1610.0,695.0 1610.8,704.5 1611.5,715.0 1611.6,716.7 1612.4,735.4 1612.8,740.0 1613.2,739.5 1614.0,736.4 1614.8,732.8 1615.0,732.0 1615.5,730.3 1616.3,728.2 1617.0,727.4 1617.1,727.6 1617.9,737.4 1618.2,742.0 1618.7,768.5 1618.8,774.5 1619.5,786.5 1620.3,800.9 1620.7,820.0 1620.7,880.0 1621.1,901.4 1621.9,915.9 1622.0,920.0 1622.5,945.0 1622.7,948.1 1623.4,964.2 1623.5,965.0 1624.2,974.4 1624.2,974.4 1625.0,971.3 1625.8,966.0 1626.0,965.0 1626.6,961.6 1627.4,956.5 1628.2,951.1 1629.0,945.9 1629.8,941.4 1630.6,937.8 1631.3,935.7 1631.8,935.4 1632.1,939.0 1632.5,945.0 1632.9,949.0 1633.7,955.2 1634.2,960.0 1634.5,967.5 1635.0,980.0 1635.3,986.5 1636.0,1000.0 1636.1,1001.5 1636.9,1012.9 1637.5,1021.0 1637.7,1023.2 1638.5,1032.6 1639.0,1040.0 1639.2,1044.6 1640.0,1060.0 1640.0,1060.6 1640.8,1070.3 1641.6,1078.5 1641.8,1080.0 1642.4,1087.9 1643.2,1097.1 1643.5,1100.0 1644.0,1104.1 1644.8,1109.8 1645.6,1115.0 1645.8,1116.6 1646.4,1120.8 1647.1,1126.4 1647.5,1128.0 1647.9,1129.4 1648.7,1131.5 1649.5,1133.0 1650.0,1133.5 1650.3,1133.7 1651.1,1134.1 1651.9,1134.4 1652.7,1134.8 1653.0,1135.0 1653.5,1135.3 1654.3,1136.0 1655.0,1136.9 1655.8,1138.2 1656.0,1138.5 1656.6,1141.6 1657.4,1147.9 1657.8,1150.6 1658.2,1153.0 1659.0,1157.2 1659.8,1161.3 1660.5,1165.0 1660.6,1165.4 1661.4,1169.7 1662.0,1173.3 1662.2,1174.3 1662.9,1179.7 1663.0,1180.0 1663.7,1185.0 1664.5,1190.3 1664.5,1190.5 1665.3,1196.8 1665.5,1198.0 1666.1,1201.7 1666.5,1203.0 1666.9,1203.5 1667.7,1204.2 1668.5,1204.6 1669.0,1205.0 1669.3,1205.3 1670.1,1206.2 1670.8,1207.4 1671.6,1208.6 1672.4,1209.7 1673.2,1210.7 1674.0,1211.3 1674.7,1211.5 1674.8,1211.4 1675.6,1205.1 1676.2,1199.0 1676.4,1196.8 1677.2,1188.8 1677.5,1185.0 1678.0,1179.5 1678.7,1167.5 1679.0,1162.0 1679.5,1140.1 1679.8,1128.0 1680.0,1112.0 1680.3,1101.3 1680.8,1094.0 1681.1,1091.5 1681.9,1085.5 1682.7,1082.4 1682.9,1082.3 1683.5,1084.5 1684.3,1094.6 1684.3,1095.0 1684.6,1111.5" fill="none" stroke="#440154" stroke-opacity="0.8" stroke-width="10.7" stroke-linejoin="round" stroke-linecap="butt" shape-rendering="crispEdges"/>
<g shape-rendering="crispEdges">
<path fill-rule="evenodd" fill="#000" d="M143,22H1759V1348H143Z M147,26H1754V1343H147Z"/>
<rect x="215" y="1348" width="4" height="10" fill="#333333"/>
<rect x="622" y="1348" width="4" height="10" fill="#333333"/>
<rect x="1030" y="1348" width="4" height="10" fill="#333333"/>
<rect x="1437" y="1348" width="4" height="10" fill="#333333"/>
<rect x="132" y="307" width="11" height="4" fill="#333333"/>
<rect x="132" y="663" width="11" height="4" fill="#333333"/>
<rect x="132" y="1019" width="11" height="4" fill="#333333"/>
</g>
<text x="216.7" y="1394.2" class="atext" text-anchor="middle">4000</text>
<text x="623.7" y="1394.2" class="atext" text-anchor="middle">3000</text>
<text x="1031.7" y="1394.2" class="atext" text-anchor="middle">2000</text>
<text x="1438.7" y="1394.2" class="atext" text-anchor="middle">1000</text>
<text x="124.0" y="322.6" class="atext" text-anchor="end">2.0</text>
<text x="124.0" y="678.6" class="atext" text-anchor="end">1.5</text>
<text x="124.0" y="1034.6" class="atext" text-anchor="end">1.0</text>
<text transform="translate(56.6,684.8) rotate(-90) scale(1,1.05)" class="atitle" text-anchor="middle">absorbance</text>
<text x="761.0" y="1456.5" class="atitle">Wavenumber</text>
<text x="1013.3" y="1456.5" class="atitle paren">(</text>
<text x="1032.0" y="1456.5" class="atitle">cm</text>
<rect x="1087.5" y="1426.7" width="17" height="2.7" fill="#000"/>
<text x="1106.5" y="1435.9" class="atitle sup">1</text>
<text x="1120.3" y="1456.5" class="atitle paren">)</text>
<text x="1825.5" y="654.7" class="atitle">spectra</text>
<line x1="1832.9" y1="717.5" x2="1890.9" y2="717.5" stroke="#440154" stroke-opacity="0.8" stroke-width="10.7"/>
<text x="1921" y="730.9" class="ltext">CoHA01</text>
</svg>
</body></html>
